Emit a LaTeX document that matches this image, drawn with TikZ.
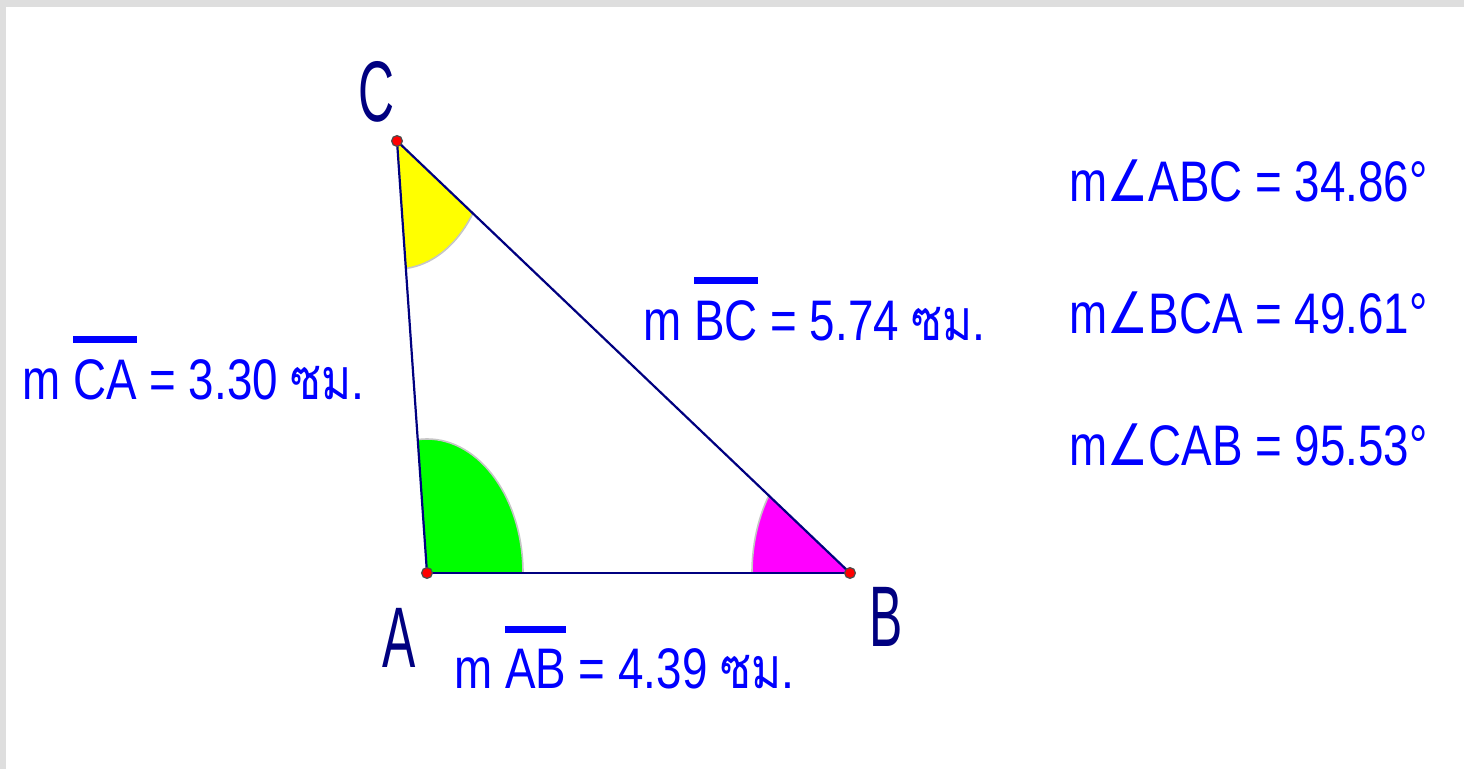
\documentclass[tikz,border=0pt]{standalone}
\usepackage{fontspec}
\setmainfont{Liberation Sans}[FakeStretch=0.8]
\newfontfamily\thaifont[Script=Thai,FakeStretch=0.8]{Loma}
\newfontfamily\symfont[FakeStretch=0.8]{DejaVu Sans}
\newfontfamily\vlabelfont[FakeStretch=0.58]{Liberation Sans}
\newcommand\segbar[1]{\leavevmode\vbox{\hrule height 3.3pt\kern 8.5pt\hbox{#1}}}
\definecolor{navy}{RGB}{0,0,128}
\definecolor{txtblue}{RGB}{0,0,255}
\definecolor{framegray}{RGB}{222,222,222}
\definecolor{ygold}{RGB}{255,255,0}
\definecolor{lgreen}{RGB}{0,255,0}
\definecolor{magen}{RGB}{255,0,255}
\tikzset{
  meas/.style={anchor=base west,inner sep=0pt,text=txtblue,font=\fontsize{28.6}{34}\selectfont},
  vlabel/.style={anchor=base west,inner sep=0pt,text=navy,font=\vlabelfont\fontsize{43}{50}\selectfont},
  side/.style={draw=navy,line width=1.1pt},
  vdot/.style={fill=red,draw=black!70,line width=0.6pt},
  sector/.style={draw=gray!45,line width=0.8pt}
}
\begin{document}
\begin{tikzpicture}[x=0.5pt,y=-0.5pt]
\useasboundingbox (0,0) rectangle (1464,769);
\fill[white] (0,0) rectangle (1464,769);
\fill[framegray] (0,0) rectangle (1464,7);
\fill[framegray] (0,0) rectangle (6,769);

\coordinate (A) at (427,573);
\coordinate (B) at (850,573);
\coordinate (C) at (397,141);

% angle sectors
\begin{scope}
  \clip (A) -- (B) -- (C) -- cycle;
  \fill[lgreen] (A) ellipse [x radius=48pt, y radius=67pt];
  \draw[sector] (A) ellipse [x radius=48pt, y radius=67pt];
  \fill[magen] (B) ellipse [x radius=49pt, y radius=69pt];
  \draw[sector] (B) ellipse [x radius=49pt, y radius=69pt];
  \fill[ygold] (C) ellipse [x radius=46pt, y radius=64pt];
  \draw[sector] (C) ellipse [x radius=46pt, y radius=64pt];
\end{scope}

% sides
\draw[side,line width=1.4pt] (A) -- (B);
\draw[side] (B) -- (C);
\draw[side] (C) -- (A);

% vertices
\fill[vdot] (A) circle[radius=2.7pt];
\fill[vdot] (B) circle[radius=2.7pt];
\fill[vdot] (C) circle[radius=2.7pt];

% vertex labels
\node[vlabel] (labC) at (358,122) {C};
\node[vlabel] (labA) at (382,668) {A};
\node[vlabel] (labB) at (869,647) {B};

% measurements
\node[meas] (mCA) at (22,400) {m \segbar{CA} = 3.30 {\thaifont ซม.}};
\node[meas] (mBC) at (643,341) {m \segbar{BC} = 5.74 {\thaifont ซม.}};
\node[meas] (mAB) at (454,689) {m \segbar{AB} = 4.39 {\thaifont ซม.}};

\node[meas] (aABC) at (1069,202) {m{\symfont ∠}ABC = 34.86°};
\node[meas] (aBCA) at (1069,334) {m{\symfont ∠}BCA = 49.61°};
\node[meas] (aCAB) at (1069,466) {m{\symfont ∠}CAB = 95.53°};
\end{tikzpicture}
\end{document}
